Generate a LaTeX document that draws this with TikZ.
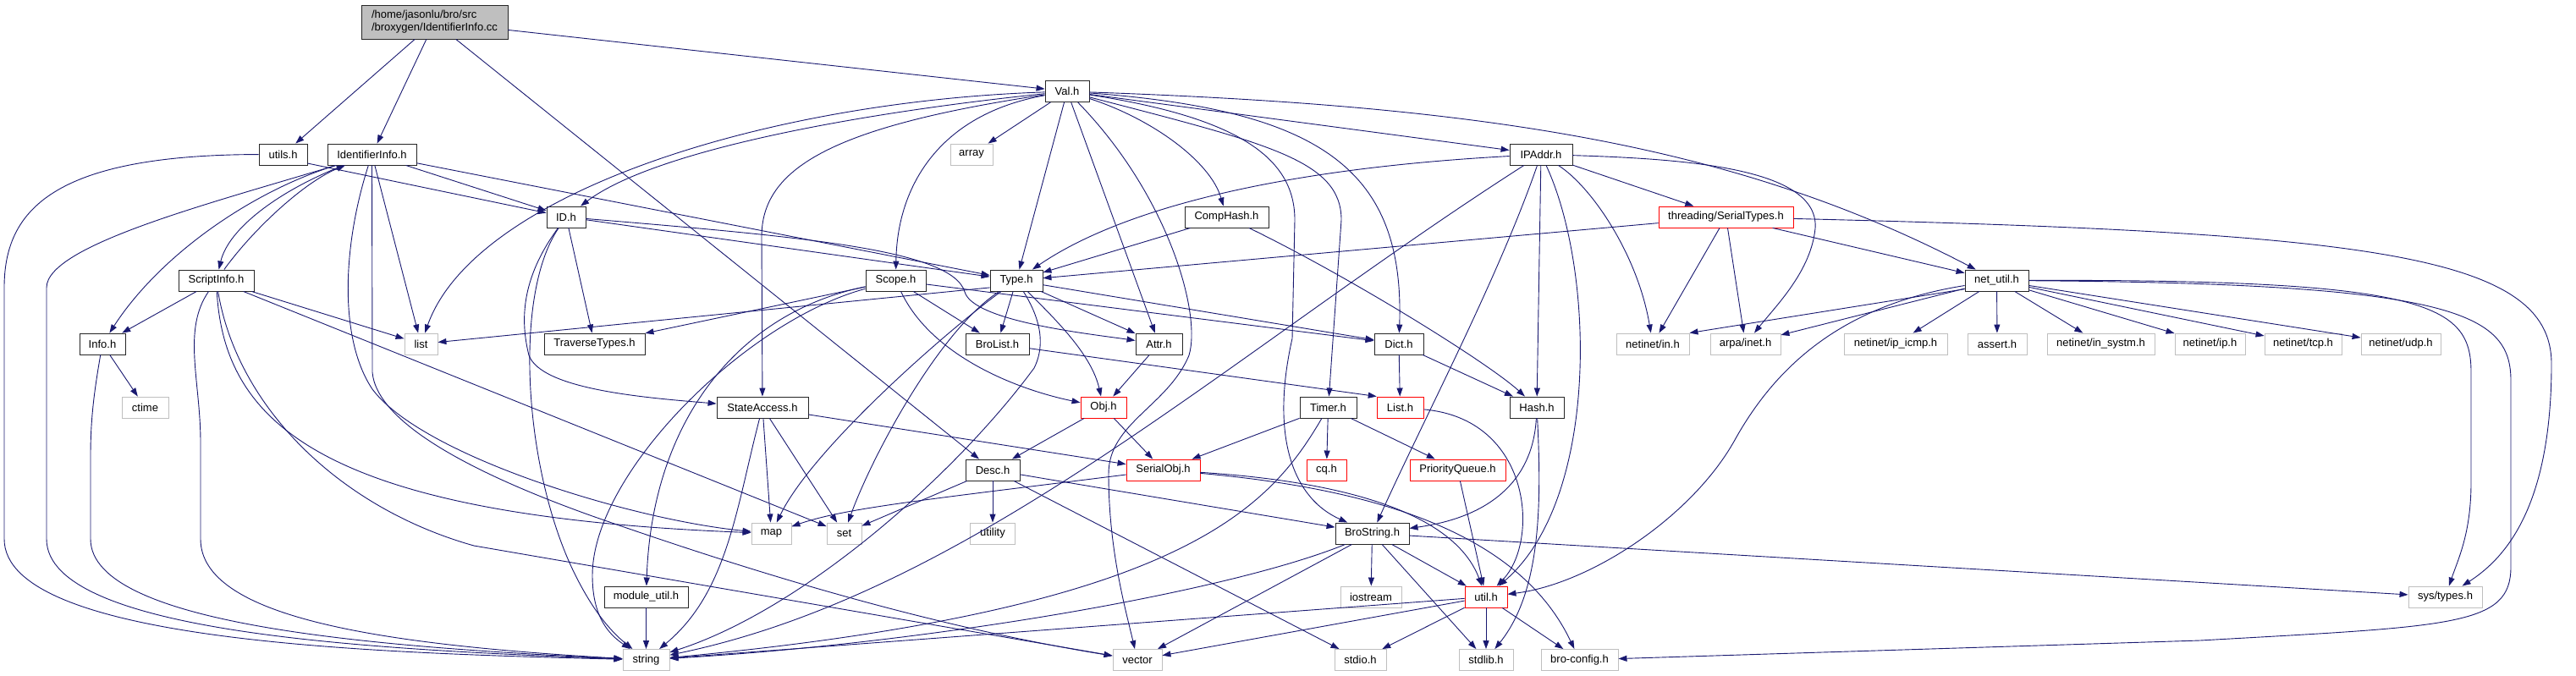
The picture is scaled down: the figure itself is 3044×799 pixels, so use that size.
\documentclass[tikz,border=0pt]{standalone}
\usepackage{fontspec}
\setmainfont{Liberation Sans}
\usetikzlibrary{arrows.meta}

\definecolor{edgeblue}{HTML}{191970}
\definecolor{grey75}{HTML}{BFBFBF}

\begin{document}
\begin{tikzpicture}[
    x=1pt, y=-1pt,
    font=\fontsize{13}{15}\selectfont,
    >={Triangle[length=10pt, width=7pt]},
    hdr/.style={rectangle, draw=black!85, line width=0.9pt, fill=white, minimum height=25pt, inner xsep=1pt, inner ysep=1pt},
    syshdr/.style={hdr, draw=grey75},
    cuthdr/.style={hdr, draw=red},
    srcfile/.style={hdr, fill=grey75, minimum height=40pt, align=left},
    dep/.style={->, draw=edgeblue, line width=0.9pt},
]
    \useasboundingbox (0,0) rectangle (3044,799);

    % source file and its headers
    \node[srcfile, minimum width=173pt] (root) at (513.5,26) {/home/jasonlu/bro/src\\/broxygen/IdentifierInfo.cc};
    \node[hdr, minimum width=57pt] (utilsh) at (334.5,182.5) {utils.h};
    \node[hdr, minimum width=105pt] (idinfoh) at (439.5,182.5) {IdentifierInfo.h};
    \node[hdr, minimum width=52pt] (valh) at (1261,108) {Val.h};
    \node[hdr, minimum width=89pt] (scriptinfo) at (255.5,331.5) {ScriptInfo.h};
    \node[hdr, minimum width=54pt] (infoh) at (121,406.5) {Info.h};
    \node[hdr, minimum width=46pt] (idh) at (669,256.5) {ID.h};
    \node[hdr, minimum width=119pt] (traverse) at (702.5,406.5) {TraverseTypes.h};
    \node[hdr, minimum width=99pt] (comphash) at (1449.5,256.5) {CompHash.h};
    \node[hdr, minimum width=71pt] (scopeh) at (1058.5,331.5) {Scope.h};
    \node[hdr, minimum width=62pt] (typeh) at (1201,331.5) {Type.h};
    \node[hdr, minimum width=75pt] (brolist) at (1178.5,406.5) {BroList.h};
    \node[hdr, minimum width=55pt] (attrh) at (1369.5,406.5) {Attr.h};
    \node[hdr, minimum width=74pt] (ipaddr) at (1821,182.5) {IPAddr.h};
    \node[cuthdr, minimum width=159pt] (serialtypes) at (2039.5,256.5) {threading/SerialTypes.h};
    \node[hdr, minimum width=58pt] (dicth) at (1653,406.5) {Dict.h};
    \node[hdr, minimum width=75pt] (netutil) at (2359.5,331.5) {net\_util.h};
    \node[hdr, minimum width=108pt] (stateaccess) at (901,481.5) {StateAccess.h};
    \node[hdr, minimum width=99pt] (moduleutil) at (763.5,705.5) {module\_util.h};
    \node[cuthdr, minimum width=54pt] (objh) at (1304,481.5) {Obj.h};
    \node[hdr, minimum width=64pt] (desch) at (1173,555.5) {Desc.h};
    \node[cuthdr, minimum width=87pt] (serialobj) at (1374.5,555.5) {SerialObj.h};
    \node[hdr, minimum width=67pt] (timerh) at (1569.5,481.5) {Timer.h};
    \node[cuthdr, minimum width=55pt] (listh) at (1654.5,481.5) {List.h};
    \node[hdr, minimum width=64pt] (hashh) at (1816,481.5) {Hash.h};
    \node[cuthdr, minimum width=47pt] (cqh) at (1567.5,555.5) {cq.h};
    \node[cuthdr, minimum width=113pt] (prioq) at (1722.5,555.5) {PriorityQueue.h};
    \node[hdr, minimum width=87pt] (brostring) at (1621.5,630.5) {BroString.h};
    \node[cuthdr, minimum width=50pt] (utilh) at (1756,705.5) {util.h};

    % system headers
    \node[syshdr, minimum width=39pt] (listn) at (497.5,406.5) {list};
    \node[syshdr, minimum width=55pt] (ctime) at (171.5,481.5) {ctime};
    \node[syshdr, minimum width=50pt] (array) at (1148,182.5) {array};
    \node[syshdr, minimum width=86pt] (netinetin) at (1953,406.5) {netinet/in.h};
    \node[syshdr, minimum width=83pt] (arpainet) at (2062.5,406.5) {arpa/inet.h};
    \node[syshdr, minimum width=122pt] (ipicmp) at (2240,406.5) {netinet/ip\_icmp.h};
    \node[syshdr, minimum width=70pt] (asserth) at (2360,406.5) {assert.h};
    \node[syshdr, minimum width=127pt] (insystm) at (2482.5,406.5) {netinet/in\_systm.h};
    \node[syshdr, minimum width=83pt] (netinetip) at (2611.5,406.5) {netinet/ip.h};
    \node[syshdr, minimum width=91pt] (tcph) at (2721.5,406.5) {netinet/tcp.h};
    \node[syshdr, minimum width=94pt] (udph) at (2837,406.5) {netinet/udp.h};
    \node[syshdr, minimum width=47pt] (mapn) at (911.5,630.5) {map};
    \node[syshdr, minimum width=41pt] (setn) at (997.5,630.5) {set};
    \node[syshdr, minimum width=55pt] (stringn) at (763.5,780) {string};
    \node[syshdr, minimum width=53pt] (utility) at (1173,630.5) {utility};
    \node[syshdr, minimum width=58pt] (vectorn) at (1344,780) {vector};
    \node[syshdr, minimum width=72pt] (iostream) at (1620,705.5) {iostream};
    \node[syshdr, minimum width=61pt] (stdioh) at (1607.5,780) {stdio.h};
    \node[syshdr, minimum width=64pt] (stdlibh) at (1756,780) {stdlib.h};
    \node[syshdr, minimum width=91pt] (broconfig) at (1866.5,780) {bro-config.h};
    \node[syshdr, minimum width=87pt] (systypes) at (2889.5,705.5) {sys/types.h};

    % straight includes
    \foreach \a/\b in {root/utilsh, root/idinfoh, root/valh, root/desch,
        idinfoh/idh, idinfoh/typeh, idinfoh/listn,
        scriptinfo/infoh, scriptinfo/listn, scriptinfo/setn, infoh/ctime,
        valh/array, valh/typeh, valh/attrh, valh/ipaddr,
        idh/typeh, idh/traverse,
        typeh/brolist, typeh/attrh, typeh/dicth,
        scopeh/brolist, scopeh/traverse, scopeh/dicth, comphash/typeh,
        ipaddr/hashh, ipaddr/serialtypes,
        serialtypes/typeh, serialtypes/netinetin, serialtypes/arpainet, serialtypes/netutil,
        netutil/arpainet, netutil/ipicmp, netutil/asserth, netutil/insystm,
        netutil/netinetip, netutil/tcph, netutil/udph,
        dicth/listh, dicth/hashh, attrh/objh, objh/desch, objh/serialobj,
        desch/setn, desch/utility, desch/brostring, desch/stdioh,
        stateaccess/serialobj, stateaccess/mapn, stateaccess/setn,
        timerh/serialobj, timerh/cqh, timerh/prioq, prioq/utilh,
        brostring/vectorn, brostring/iostream, brostring/utilh, brostring/stdlibh, brostring/systypes,
        utilh/stringn, utilh/vectorn, utilh/stdioh, utilh/stdlibh, utilh/broconfig,
        moduleutil/stringn}
        \draw[dep] (\a) -- (\b);
    \draw[dep] (utilsh.-20) -- (idh);
    \draw[dep] (typeh.195) -- (listn);
    \draw[dep] (brolist) -- (listh.155);
    \draw[dep] (netutil.195) -- (netinetin.north east);

    % long routes down the left side
    \draw[dep] (utilsh) .. controls (60,183) and (5,250) .. (5,340) -- (5,637) .. controls (5,760) and (450,772) .. (stringn);
    \draw[dep] (idinfoh) .. controls (250,240) and (55,290) .. (55,340) -- (55,637) .. controls (55,750) and (450,768) .. (stringn);
    \draw[dep] (infoh) .. controls (110,470) and (107,500) .. (107,540) -- (107,637) .. controls (107,740) and (450,765) .. (stringn);
    \draw[dep] (scriptinfo) .. controls (215,390) and (237,450) .. (237,523) -- (237,637) .. controls (237,730) and (450,762) .. (stringn);

    % IdentifierInfo.h / ScriptInfo.h
    \draw[dep] (idinfoh) .. controls (330,225) and (270,270) .. (scriptinfo);
    \draw[dep] (scriptinfo) .. controls (300,270) and (360,215) .. (idinfoh);
    \draw[dep] (idinfoh) .. controls (300,225) and (190,300) .. (infoh);
    \draw[dep] (idinfoh) .. controls (405,290) and (400,400) .. (440,460) .. controls (500,540) and (750,615) .. (mapn);
    \draw[dep] (idinfoh.south) -- (440,440) .. controls (445,500) and (560,560) .. (700,610) .. controls (900,680) and (1100,740) .. (vectorn);
    \draw[dep] (scriptinfo) .. controls (265,500) and (380,610) .. (mapn);
    \draw[dep] (scriptinfo) .. controls (280,480) and (400,600) .. (560,645) -- (vectorn);

    % ID.h
    \draw[dep] (idh) .. controls (605,350) and (620,560) .. (680,680) .. controls (700,720) and (720,745) .. (stringn);
    \draw[dep] (idh) .. controls (615,330) and (615,380) .. (625,420) .. controls (640,460) and (760,470) .. (stateaccess);
    \draw[dep] (idh) .. controls (950,280) and (1125,295) .. (1140,345) .. controls (1150,380) and (1290,395) .. (attrh);

    % Val.h
    \draw[dep] (valh) .. controls (900,120) and (560,230) .. (listn);
    \draw[dep] (valh) .. controls (1000,135) and (770,180) .. (idh);
    \draw[dep] (valh) .. controls (1110,135) and (1060,220) .. (scopeh);
    \draw[dep] (valh) .. controls (980,150) and (900,200) .. (900,280) -- (stateaccess);
    \draw[dep] (valh) .. controls (1380,230) and (1420,370) .. (1405,420) .. controls (1380,480) and (1310,500) .. (1310,560) .. controls (1310,650) and (1330,720) .. (vectorn);
    \draw[dep] (valh) .. controls (1360,140) and (1430,190) .. (comphash);
    \draw[dep] (valh) .. controls (1560,130) and (1660,200) .. (dicth);
    \draw[dep] (valh) .. controls (1470,140) and (1530,190) .. (1530,260) -- (1527,400) .. controls (1500,520) and (1530,590) .. (brostring);
    \draw[dep] (valh) .. controls (1500,170) and (1585,190) .. (1585,260) -- (timerh);
    \draw[dep] (valh) .. controls (1750,125) and (2050,170) .. (netutil);

    % Scope.h and Type.h
    \draw[dep] (scopeh) .. controls (880,380) and (700,560) .. (700,680) .. controls (700,730) and (720,750) .. (stringn);
    \draw[dep] (scopeh) .. controls (870,370) and (770,500) .. (moduleutil);
    \draw[dep] (scopeh) .. controls (1100,420) and (1200,460) .. (objh);
    \draw[dep] (typeh) .. controls (1120,390) and (960,530) .. (mapn);
    \draw[dep] (typeh) .. controls (1110,390) and (1030,540) .. (setn);
    \draw[dep] (typeh) .. controls (1250,380) and (1290,420) .. (objh);
    \draw[dep] (typeh) .. controls (1235,385) and (1232,415) .. (1222,435) .. controls (1130,560) and (950,720) .. (stringn);
    \draw[dep] (comphash) .. controls (1600,330) and (1760,430) .. (hashh);

    % IPAddr.h
    \draw[dep] (ipaddr) .. controls (1500,200) and (1320,250) .. (typeh);
    \draw[dep] (ipaddr) .. controls (1450,420) and (1150,700) .. (stringn);
    \draw[dep] (ipaddr) .. controls (1770,330) and (1680,500) .. (brostring);
    \draw[dep] (ipaddr) .. controls (1885,320) and (1890,590) .. (utilh);
    \draw[dep] (ipaddr) .. controls (1880,220) and (1935,300) .. (netinetin);
    \draw[dep] (ipaddr) .. controls (2000,188) and (2150,200) .. (2145,270) .. controls (2140,320) and (2100,360) .. (arpainet);

    % right-hand routes
    \draw[dep] (serialtypes) .. controls (2800,275) and (3015,300) .. (3015,430) .. controls (3015,600) and (2960,660) .. (systypes);
    \draw[dep] (netutil) .. controls (2870,330) and (2920,360) .. (2920,440) -- (2920,570) .. controls (2920,630) and (2905,660) .. (systypes);
    \draw[dep] (netutil) .. controls (2900,335) and (2967,370) .. (2967,450) -- (2967,670) .. controls (2967,740) and (2900,740) .. (2600,757) -- (broconfig);
    \draw[dep] (netutil) .. controls (2180,360) and (2100,430) .. (2050,520) .. controls (2000,610) and (1880,690) .. (utilh);

    % lower part
    \draw[dep] (stateaccess) .. controls (870,600) and (860,700) .. (stringn);
    \draw[dep] (serialobj) .. controls (1100,590) and (1000,600) .. (mapn);
    \draw[dep] (serialobj) .. controls (1600,570) and (1720,610) .. (utilh);
    \draw[dep] (serialobj) .. controls (1650,580) and (1800,640) .. (broconfig);
    \draw[dep] (timerh) .. controls (1500,600) and (1400,720) .. (stringn);
    \draw[dep] (brostring) .. controls (1450,700) and (1100,760) .. (stringn);
    \draw[dep] (hashh) .. controls (1812,560) and (1770,610) .. (brostring);
    \draw[dep] (hashh) .. controls (1822,600) and (1820,700) .. (stdlibh);
    \draw[dep] (listh) .. controls (1810,495) and (1820,640) .. (utilh);
\end{tikzpicture}
\end{document}
